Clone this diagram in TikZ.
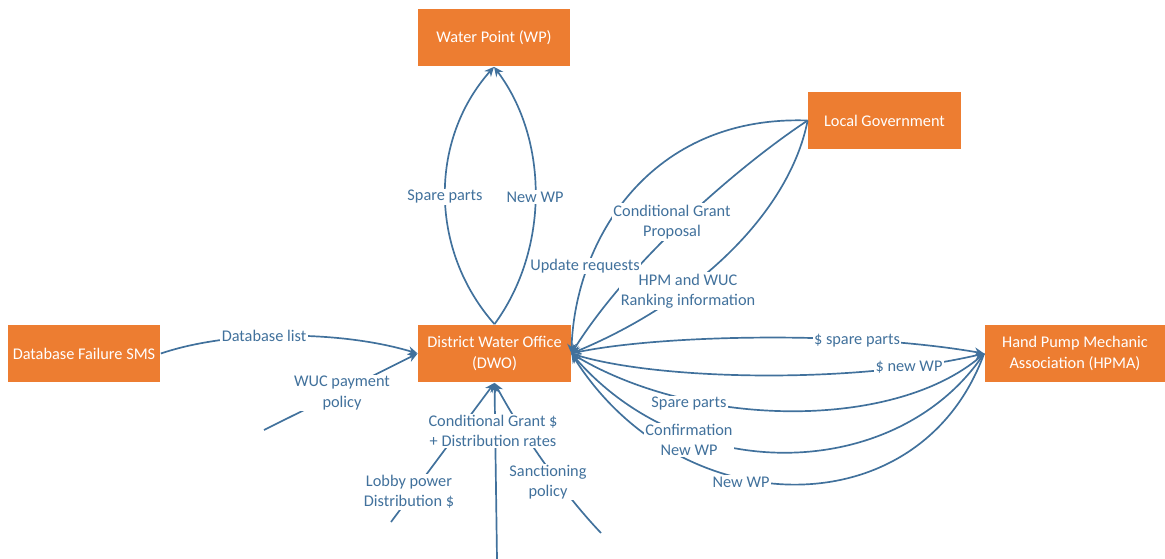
\documentclass[tikz,border=0pt]{standalone}
\usepackage{fontspec}
\setmainfont{Carlito}
\usetikzlibrary{arrows.meta}
\definecolor{boxorange}{RGB}{237,125,49}
\definecolor{linkblue}{RGB}{65,113,156}
\begin{document}
\begin{tikzpicture}[x=0.025cm,y=-0.025cm,line width=1.2pt,font=\fontsize{11.6}{14.4}\selectfont,
	box/.style={fill=boxorange,text=white,minimum width=3.8cm,minimum height=1.425cm,align=center,inner sep=0pt},
	lbl/.style={fill=white,text=linkblue,align=center,inner sep=1pt},
	flow/.style={draw=linkblue,-{Stealth[length=2.4mm,width=2.2mm]}}]
	\useasboundingbox (0,0) rectangle (1165,559);
	%actors----------------------------------
	\node[box] (wp) at (494,37.5) {Water Point (WP)};
	\node[box] (lg) at (884.5,120.5) {Local Government};
	\node[box] (db) at (84,353.5) {Database Failure SMS};
	\node[box] (dwo) at (494.5,353.5) {District Water Office\\(DWO)};
	\node[box,minimum width=4.5cm] (hpma) at (1075,353.5) {Hand Pump Mechanic\\Association (HPMA)};
	%loose ends
	\coordinate (wucend) at (264,430); %WUC policy
	\coordinate (lobbyend) at (391,522); %lobby
	\coordinate (grantend) at (497,559); %grant
	\coordinate (sanctend) at (601,533); %sanctions
	%DWO to WP-------------------------------
		\draw[flow] (dwo.north) .. controls (429,250) and (429,140) .. (wp.south); %spare parts
		\draw[flow] (dwo.north) .. controls (549,250) and (549,140) .. (wp.south); %new WP
	%Local government to DWO-----------------
		\draw[flow] (lg.west) .. controls (650,115) and (575,240) .. (dwo.east); %update requests
		\draw[flow] (lg.west) .. controls (740,165) and (630,260) .. (dwo.east); %grant proposal
		\draw[flow] (lg.west) .. controls (790,210) and (700,300) .. (dwo.east); %ranking
	%DWO and HPMA----------------------------
		\draw[flow] (dwo.east) .. controls (650,335) and (850,330) .. (hpma.west); %$ spare parts
		\draw[flow] (dwo.east) .. controls (650,380) and (850,385) .. (hpma.west); %$ new WP
		\draw[flow] (hpma.west) .. controls (900,430) and (700,430) .. (dwo.east); %spare parts
		\draw[flow] (hpma.west) .. controls (900,480) and (690,490) .. (dwo.east); %confirmation
		\draw[flow] (hpma.west) .. controls (920,530) and (680,525) .. (dwo.east); %new WP
	%inputs to DWO---------------------------
		\draw[flow] (db.east) .. controls (230,330) and (340,330) .. (dwo.west); %database list
		\draw[flow] (wucend) -- (dwo.west); %WUC policy
		\draw[flow] (grantend) -- (dwo.south); %grant
		\draw[flow] (lobbyend) -- (dwo.south); %lobby
		\draw[flow] (sanctend) .. controls (560,490) and (520,430) .. (dwo.south); %sanctions
	%labels----------------------------------
	\node[lbl] (lspare) at (445,197) {Spare parts};
	\node[lbl] (lnewwp) at (535,197) {New WP};
	\node[lbl] (lproposal) at (672,222) {Conditional Grant\\Proposal};
	\node[lbl] (lupdate) at (585,266) {Update requests};
	\node[lbl] (lranking) at (688,291) {HPM and WUC\\Ranking information};
	\node[lbl] (ldblist) at (264,336) {Database list};
	\node[lbl] (lwuc) at (342,393) {WUC payment\\policy};
	\node[lbl] (lgrant) at (493,431) {Conditional Grant \$\\+ Distribution rates};
	\node[lbl] (llobby) at (409,492) {Lobby power\\Distribution \$};
	\node[lbl] (lsanct) at (548,482) {Sanctioning\\policy};
	\node[lbl] (lpayspare) at (857,341) {\$ spare parts};
	\node[lbl] (lpaynew) at (909,367) {\$ new WP};
	\node[lbl] (lhpmaspare) at (689,404) {Spare parts};
	\node[lbl] (lconfirm) at (689,440) {Confirmation\\New WP};
	\node[lbl] (lhpmanew) at (741,482) {New WP};
\end{tikzpicture}
\end{document}
